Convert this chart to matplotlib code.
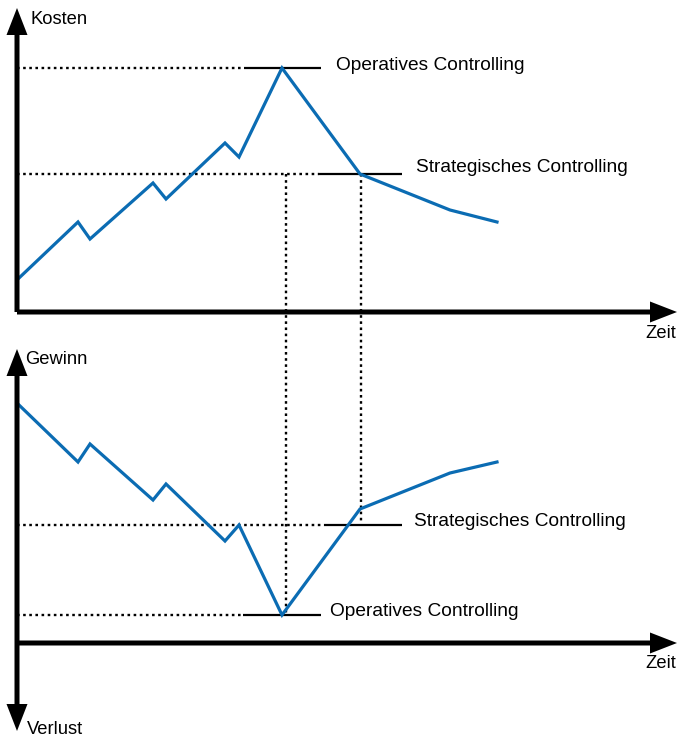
import matplotlib
matplotlib.use("Agg")
import matplotlib.pyplot as plt

plt.rcParams['font.family'] = ['Liberation Sans', 'DejaVu Sans']

# Data (read in figure pixel coordinates: x to the right, y downward)
zeit = [19, 78, 90, 153, 166, 225, 239, 282, 360, 450, 497]
kosten = [278, 222, 239, 183, 199, 143, 157, 68, 174, 210, 222]
zeit_g = [19, 78, 90, 153, 166, 225, 239, 282, 360, 450, 497]
gewinn = [405, 462, 444, 500, 484, 541, 525, 615, 509, 473, 462]

op_label = "Operatives Controlling"
st_label = "Strategisches Controlling"

W, H = 680, 738
fig = plt.figure(figsize=(W / 100, H / 100), dpi=100)
ax = fig.add_axes([0, 0, 1, 1])
ax.set_xlim(0, W)
ax.set_ylim(H, 0)
ax.axis('off')

blue = '#0b6cb3'
dot = dict(color='black', lw=1.7, linestyle=(0, (1.1, 1.5)))
solid = dict(color='black', lw=1.6, solid_capstyle='butt')
fs = 13.8
fs_ax = 13.2

# Guide lines top
ax.plot([17, 244], [kosten[7]] * 2, **dot)
ax.plot([244, 321], [kosten[7]] * 2, **solid)
ax.text(336, kosten[7] - 2, op_label, fontsize=fs, va='center', ha='left')
ax.plot([17, 319], [kosten[8]] * 2, **dot)
ax.plot([319, 402], [kosten[8]] * 2, **solid)
ax.text(416, kosten[8] - 6, st_label, fontsize=fs, va='center', ha='left')

# Guide lines bottom
ax.plot([17, 324], [gewinn[6]] * 2, **dot)
ax.plot([324, 402], [gewinn[6]] * 2, **solid)
ax.text(414, gewinn[6] - 4, st_label, fontsize=fs, va='center', ha='left')
ax.plot([17, 243], [gewinn[7]] * 2, **dot)
ax.plot([243, 321], [gewinn[7]] * 2, **solid)
ax.text(330, gewinn[7] - 3, op_label, fontsize=fs, va='center', ha='left')

# Vertical dotted connectors
ax.plot([286, 286], [kosten[8], gewinn[7]], **dot)
ax.plot([361, 361], [kosten[8], 522], **dot)

# Curves
ax.plot(zeit, kosten, color=blue, lw=2.3, solid_joinstyle='miter', zorder=5)
ax.plot(zeit_g, gewinn, color=blue, lw=2.3, solid_joinstyle='miter', zorder=5)

# Axes arrows
aw = dict(width=5, head_width=21, head_length=27, length_includes_head=True,
          color='black', lw=0, zorder=6)
# top panel
ax.arrow(17, 312, 0, 8 - 312, **aw)
ax.arrow(17, 312, 677 - 17, 0, **aw)
# bottom panel
ax.arrow(17, 643, 0, 349 - 643, **aw)
ax.arrow(17, 643, 0, 731 - 643, **aw)
ax.arrow(17, 643, 677 - 17, 0, **aw)

ax.text(31, 19, "Kosten", fontsize=fs_ax, va='center', ha='left')
ax.text(25, 360, "Gewinn", fontsize=fs_ax, va='center', ha='left')
ax.text(27, 730, "Verlust", fontsize=fs_ax, va='center', ha='left')
ax.text(661, 334, "Zeit", fontsize=fs_ax, va='center', ha='center')
ax.text(661, 664, "Zeit", fontsize=fs_ax, va='center', ha='center')

fig.savefig("out.png", dpi=100)
